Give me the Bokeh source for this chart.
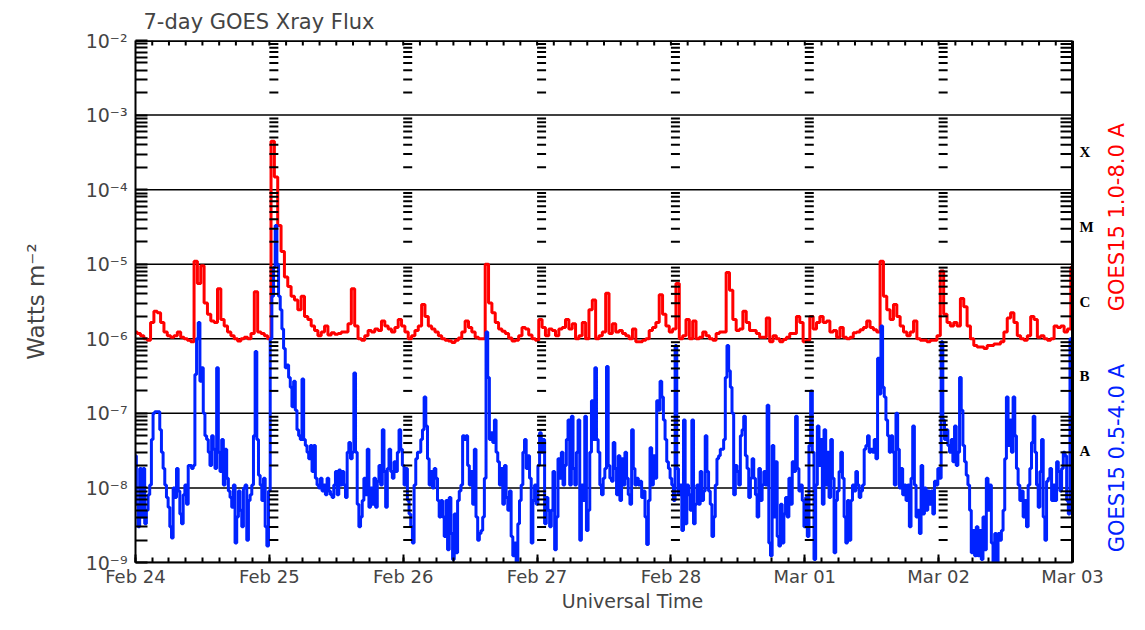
from datetime import datetime

import numpy as np
import pandas as pd
from bokeh.plotting import figure
from bokeh.models import FixedTicker, Range1d
from bokeh.core.properties import value
from bokeh.embed import file_html
from bokeh.resources import INLINE

start = datetime(2014, 2, 24)
end = datetime(2014, 3, 3)

day_labels = ["Feb 24", "Feb 25", "Feb 26", "Feb 27", "Feb 28", "Mar 01", "Mar 02", "Mar 03"]
decades = [-9, -8, -7, -6, -5, -4, -3, -2]
class_letters = ["A", "B", "C", "M", "X"]
class_exponents = [-7.5, -6.5, -5.5, -4.5, -3.5]
channel_names = ["GOES15 1.0-8.0 A", "GOES15 0.5-4.0 A"]
channel_colors = ["#ff0000", "#0022ff"]
channel_label_exponents = [-4.37, -7.6]

# GOES15 1.0-8.0 A channel, log10(W m^-2), one value every 36 min from Feb 24 00:00 UT
long_log10 = [
    -5.91, -5.93, -5.96, -6.00, -6.02, -5.78, -5.63, -5.65, -5.78, -5.91,
    -5.96, -5.98, -5.96, -5.91, -5.98, -6.00, -6.02, -6.04, -4.96, -5.26,
    -5.02, -5.52, -5.67, -5.76, -5.78, -5.33, -5.74, -5.83, -5.91, -5.96,
    -6.00, -6.03, -6.00, -5.98, -6.00, -5.93, -5.37, -5.91, -5.93, -5.96,
    -6.00, -3.35, -3.83, -4.48, -4.83, -5.17,
    -5.30, -5.43, -5.48, -5.61, -5.43, -5.70, -5.74, -5.83, -5.89, -5.96,
    -5.91, -5.83, -5.95, -5.92, -5.94, -5.93, -5.91, -5.91, -5.80, -5.33,
    -5.83, -6.00, -6.02, -5.96, -5.89, -5.91, -5.87, -5.89, -5.76, -5.83,
    -5.87, -5.91, -5.85, -5.74, -5.83, -5.91, -6.00, -5.96, -5.89, -5.83,
    -5.54, -5.70, -5.83, -5.87, -5.91, -5.96,
    -6.00, -6.02, -6.03, -6.05, -6.02, -5.99, -5.91, -5.76, -5.85, -5.91,
    -5.98, -6.00, -6.00, -5.00, -5.52, -5.65, -5.78, -5.87, -5.90, -5.93,
    -5.99, -6.03, -6.02, -5.96, -5.85, -5.87, -5.95, -6.00, -6.02, -5.74,
    -5.85, -5.96, -5.87, -5.89, -5.96, -5.87, -5.85, -5.74, -5.87, -5.80,
    -6.00, -5.96, -5.78, -6.00, -5.61, -5.48, -6.00,
    -5.96, -5.91, -5.39, -5.93, -5.80, -5.91, -5.89, -5.93, -5.96, -6.00,
    -5.87, -6.04, -6.04, -6.02, -6.00, -5.89, -5.85, -5.78, -5.41, -5.67,
    -5.83, -5.91, -5.87, -5.26, -6.00, -5.96, -5.74, -6.00, -5.76, -6.00,
    -5.98, -5.91, -5.96, -6.00, -6.02, -5.93, -5.91, -5.91, -5.11, -5.35,
    -5.74, -5.89, -5.87, -5.63, -5.78, -5.89,
    -5.89, -5.93, -5.98, -5.98, -5.72, -6.04, -5.96, -6.00, -6.04, -6.01,
    -5.98, -5.93, -5.93, -5.70, -5.78, -6.04, -6.02, -5.70, -5.87, -5.78,
    -5.70, -5.78, -5.76, -5.91, -5.89, -5.98, -5.85, -5.98, -6.00, -5.98,
    -5.92, -5.91, -5.88, -5.85, -5.76, -5.85, -5.88, -5.91, -4.96, -5.43,
    -5.61, -5.74, -5.54, -5.70, -5.83, -5.91,
    -5.96, -5.91, -5.76, -6.00, -6.02, -6.02, -6.04, -6.02, -6.02, -5.96,
    -5.09, -5.67, -5.78, -5.83, -5.78, -5.83, -5.46, -5.57, -5.83, -6.00,
    -6.09, -6.11, -6.11, -6.13, -6.09, -6.09, -6.07, -6.07, -6.04, -5.91,
    -5.72, -5.65, -5.78, -5.96, -6.00, -6.02, -5.96, -5.70, -5.74, -5.98,
    -5.96, -6.00, -6.02, -6.00, -5.83, -5.85, -5.83, -5.91, -5.87, -5.04,
]

# GOES15 0.5-4.0 A channel, log10(W m^-2), one value every 18 min from Feb 24 00:00 UT
short_log10 = [
    -7.57, -8.22, -8.52, -7.74, -8.39, -7.74, -8.48, -8.30, -8.09, -7.96,
    -7.35, -7.00, -6.98, -6.98, -6.98, -7.22, -7.52, -7.74, -7.96, -8.13,
    -8.26, -8.52, -8.67, -8.00, -8.13, -7.74, -8.04, -8.35, -8.48, -8.09,
    -7.96, -8.22, -7.70, -7.70, -7.74, -7.70, -6.48, -6.00, -5.78, -6.57,
    -6.39, -7.00, -7.30, -7.35, -7.52, -7.70, -7.30, -7.48, -7.74, -6.39,
    -7.52, -7.78, -7.35, -7.96, -7.48, -7.87, -8.04, -8.13, -8.26, -7.96,
    -8.74, -8.39, -8.04, -8.30, -8.52, -8.00, -7.96, -8.70, -8.17, -8.09,
    -7.96, -7.30, -6.17, -7.35, -7.83, -7.96, -8.17, -7.87, -8.52, -8.78,
    -8.04, -6.00, -5.43, -5.04, -4.48, -5.00, -5.43, -5.61, -5.87, -6.13,
    -6.39,
    -6.35, -6.52, -6.65, -6.91, -6.57, -6.96, -7.22, -7.30, -7.35, -6.54,
    -7.35, -7.43, -7.52, -7.61, -7.43, -7.78, -7.43, -7.87, -7.96, -8.00,
    -7.87, -8.04, -7.96, -8.09, -7.87, -8.04, -8.09, -8.13, -7.96, -7.78,
    -8.09, -7.76, -7.96, -7.78, -7.96, -8.13, -7.52, -7.39, -7.61, -7.52,
    -6.46, -7.52, -8.22, -8.52, -8.39, -8.17, -7.87, -8.09, -7.48, -8.26,
    -8.00, -8.22, -7.87, -8.26, -7.91, -7.70, -7.96, -7.22, -7.78, -8.26,
    -7.74, -7.48, -7.78, -7.87, -7.65, -7.78, -7.52, -7.22, -7.48, -7.70,
    -7.96, -7.74, -8.17, -8.35, -8.52, -8.74, -7.96, -7.61, -7.52, -7.52,
    -7.35, -7.22, -6.78, -7.17, -7.61, -7.96, -7.78, -8.00, -7.74, -7.87,
    -8.17, -8.39,
    -8.17, -8.39, -8.65, -8.17, -8.83, -8.13, -8.61, -8.96, -8.35, -8.87,
    -8.17, -8.04, -7.96, -7.30, -7.35, -7.30, -7.70, -7.96, -7.78, -8.22,
    -7.48, -8.39, -8.70, -8.61, -8.57, -8.39, -7.87, -5.91, -6.52, -7.35,
    -7.26, -7.39, -7.09, -7.52, -7.65, -7.96, -7.74, -8.22, -7.70, -8.13,
    -8.30, -8.04, -8.65, -8.91, -8.74, -9.00, -8.48, -8.17, -7.96, -7.52,
    -7.35, -7.74, -7.57, -7.87, -8.74, -8.17, -7.96, -8.22, -7.70, -7.26,
    -7.52, -7.35, -8.48, -8.13, -8.30, -8.52, -8.30, -7.78, -8.83, -8.39,
    -7.61, -7.87, -7.52, -7.96, -7.70, -7.35, -7.09, -7.96, -7.04, -7.74,
    -7.96, -7.52, -7.09, -8.70, -7.96, -8.17, -7.04, -8.57, -8.30, -7.52,
    -6.83, -7.35, -6.39, -7.35,
    -7.52, -7.96, -8.09, -7.87, -7.74, -6.37, -7.70, -7.87, -7.91, -7.39,
    -7.74, -8.09, -7.57, -8.17, -7.61, -7.96, -7.52, -7.87, -8.09, -8.22,
    -7.22, -7.74, -7.96, -7.87, -7.96, -7.91, -8.13, -8.04, -8.39, -8.76,
    -8.17, -7.46, -7.96, -7.57, -7.87, -6.83, -6.96, -6.57, -6.78, -7.09,
    -7.35, -7.65, -7.74, -7.87, -7.96, -8.17, -6.09, -7.74, -8.09, -7.96,
    -8.57, -7.09, -8.48, -7.96, -8.09, -8.30, -7.09, -8.48, -8.22, -7.96,
    -8.22, -7.78, -8.17, -8.04, -7.30, -7.78, -8.04, -8.22, -8.65, -8.39,
    -7.96, -7.61, -7.57, -7.48, -7.48, -7.35, -6.52, -6.09, -6.43, -6.65,
    -7.00, -8.09, -7.70, -7.78, -7.96, -7.30, -7.22, -7.04, -7.57, -7.74,
    -8.13, -7.87,
    -7.61, -7.87, -8.09, -8.39, -7.74, -8.17, -7.96, -7.78, -7.96, -6.89,
    -8.74, -8.91, -7.43, -8.39, -7.65, -8.65, -8.78, -8.22, -8.74, -8.35,
    -8.13, -8.39, -7.87, -8.22, -7.65, -7.78, -7.04, -7.74, -8.04, -7.96,
    -8.17, -8.52, -8.13, -8.65, -7.43, -6.70, -7.52, -8.96, -7.96, -7.17,
    -7.70, -7.35, -8.22, -7.22, -7.96, -7.52, -8.13, -7.35, -7.87, -8.87,
    -8.17, -8.04, -7.78, -7.52, -7.87, -8.39, -8.74, -8.17, -8.70, -8.17,
    -7.96, -8.04, -7.78, -7.96, -8.13, -8.04, -7.96, -7.48, -7.43, -7.30,
    -7.52, -7.48, -7.52, -7.35, -7.61, -6.26, -6.74, -5.83, -6.65, -6.78,
    -7.09, -7.30, -7.52, -7.30, -7.52, -7.96, -7.00, -7.48, -8.00, -7.74,
    -8.09, -7.96, -8.17,
    -7.96, -8.52, -7.87, -7.17, -7.96, -8.39, -8.30, -8.61, -7.70, -8.35,
    -8.00, -8.30, -8.04, -8.22, -8.04, -8.35, -7.91, -7.96, -7.74, -7.87,
    -6.04, -7.09, -7.35, -7.22, -7.43, -7.52, -7.35, -7.65, -7.17, -7.70,
    -7.52, -6.52, -6.96, -7.43, -7.65, -7.83, -7.96, -8.30, -8.87, -8.57,
    -8.91, -8.52, -8.91, -8.57, -8.96, -8.39, -8.83, -7.87, -8.30, -7.96,
    -8.74, -9.00, -8.61, -9.00, -8.61, -8.70, -8.57, -8.30, -7.61, -6.78,
    -7.43, -7.09, -7.52, -6.78, -7.30, -7.74, -7.96, -8.17, -8.04, -8.39,
    -8.17, -8.52, -7.96, -7.74, -7.39, -7.04, -7.52, -7.96, -8.26, -7.78,
    -7.35, -8.39, -8.70, -7.91, -7.87, -7.74, -8.17, -7.96, -8.17, -7.65,
    -7.78, -8.04, -7.74, -7.52, -7.57, -8.17, -8.35, -6.00, -7.35, -7.70,
]

long_time = pd.date_range(start, periods=len(long_log10), freq="36min")
short_time = pd.date_range(start, periods=len(short_log10), freq="18min")
long_flux = 10.0 ** np.array(long_log10)
short_flux = 10.0 ** np.array(short_log10)
keep = short_time <= end
short_time, short_flux = short_time[keep], short_flux[keep]

SUP = str.maketrans("-0123456789", "\u207b\u2070\u00b9\u00b2\u00b3\u2074\u2075\u2076\u2077\u2078\u2079")
major_y = [10.0 ** d for d in decades]
minor_y = [m * 10.0 ** d for d in decades[:-1] for m in range(2, 10)]
class_y = [10.0 ** e for e in class_exponents]
channel_y = [10.0 ** e for e in channel_label_exponents]

day_ms = [float(t.value // 10**6) for t in pd.date_range(start, end, freq="D")]
hour3_ms = [float(t.value // 10**6) for t in pd.date_range(start, end, freq="3h")]
t0, t1 = day_ms[0], day_ms[-1]

FONT = "DejaVu Sans"
W, H = 1129, 614
FRAME_LEFT = 135      # px, left edge of the data box
DATA_RIGHT = 1072     # px, right edge of the data box (Mar 03)
# the plot frame runs on to the right edge so the class letters and channel names fit inside it
x_stop = t1 + (t1 - t0) * (W - DATA_RIGHT) / (DATA_RIGHT - FRAME_LEFT)

p = figure(width=W, height=H, x_axis_type="datetime", y_axis_type="log",
           x_range=Range1d(t0, x_stop), y_range=Range1d(1e-9, 1e-2),
           output_backend="svg", toolbar_location=None,
           min_border_left=FRAME_LEFT, min_border_right=0, min_border_top=40, min_border_bottom=40)

p.title.text = "7-day GOES Xray Flux"
p.title.text_font = FONT
p.title.text_font_size = "21px"
p.title.text_font_style = "normal"
p.title.offset = 8
p.title.standoff = 14

p.outline_line_color = None
p.xgrid.visible = False
p.ygrid.visible = False

# y axis
yax = p.left[0]
yax.ticker = FixedTicker(ticks=major_y, minor_ticks=minor_y)
yax.major_label_overrides = {v: "10" + str(d).translate(SUP) for v, d in zip(major_y, decades)}
yax.major_label_text_font = FONT
yax.major_label_text_font_size = "19px"
yax.major_label_standoff = 8
yax.major_tick_in = 12
yax.major_tick_out = 0
yax.minor_tick_in = 12
yax.minor_tick_out = 0
yax.major_tick_line_width = 2
yax.minor_tick_line_width = 2
yax.axis_line_width = 2
yax.axis_label = "Watts m\u207b\u00b2"
yax.axis_label_text_font = FONT
yax.axis_label_text_font_size = "23px"
yax.axis_label_text_font_style = "normal"
yax.axis_label_standoff = 34

# x axis
xax = p.below[0]
xax.bounds = (t0, t1)
xax.ticker = FixedTicker(ticks=day_ms, minor_ticks=hour3_ms)
xax.major_label_overrides = dict(zip(day_ms, day_labels))
xax.major_label_text_font = FONT
xax.major_label_text_font_size = "18px"
xax.major_label_standoff = 3
xax.major_tick_in = 8
xax.major_tick_out = 0
xax.minor_tick_in = 5
xax.minor_tick_out = 0
xax.major_tick_line_width = 2
xax.minor_tick_line_width = 2
xax.axis_line_width = 2
xax.axis_label = "Universal Time"
xax.axis_label_text_font = FONT
xax.axis_label_text_font_size = "19px"
xax.axis_label_text_font_style = "normal"
xax.axis_label_standoff = 0

# decade grid lines across the seven days
p.segment(x0=[t0] * len(major_y), y0=major_y, x1=[t1] * len(major_y), y1=major_y,
          line_color="black", line_width=1.5)

p.step(long_time, long_flux, mode="center", line_color=channel_colors[0], line_width=3)
p.step(short_time, short_flux, mode="center", line_color=channel_colors[1], line_width=3)

# box top and right side
p.segment(x0=[t0, t1], y0=[1e-2, 1e-9], x1=[t1, t1], y1=[1e-2, 1e-2], line_color="black", line_width=3)

# tick columns at each day boundary, on the right side and along the top
col_x = [t for t in day_ms[1:-1] for v in minor_y]
col_y = [v for t in day_ms[1:-1] for v in minor_y]
p.ray(x=col_x, y=col_y, length=9, angle=0, length_units="screen", line_color="black", line_width=2)
p.ray(x=[t1] * len(minor_y), y=minor_y, length=12, angle=np.pi, length_units="screen",
      line_color="black", line_width=2)
p.ray(x=hour3_ms[1:-1], y=[1e-2] * (len(hour3_ms) - 2), length=5, angle=-np.pi / 2,
      length_units="screen", line_color="black", line_width=2)

# flare class letters and channel names right of the box
p.text(x=[t1] * len(class_y), y=class_y, text=class_letters, x_offset=7,
       text_font=value("Liberation Serif"), text_font_style="bold", text_font_size="15px",
       text_align="left", text_baseline="middle", text_color="black")
p.text(x=[t1] * len(channel_y), y=channel_y, text=channel_names, x_offset=44, angle=np.pi / 2,
       text_font=value(FONT), text_font_size="21px", text_align="center",
       text_baseline="middle", text_color=channel_colors)

open("out.html", "w").write(file_html(p, INLINE))
